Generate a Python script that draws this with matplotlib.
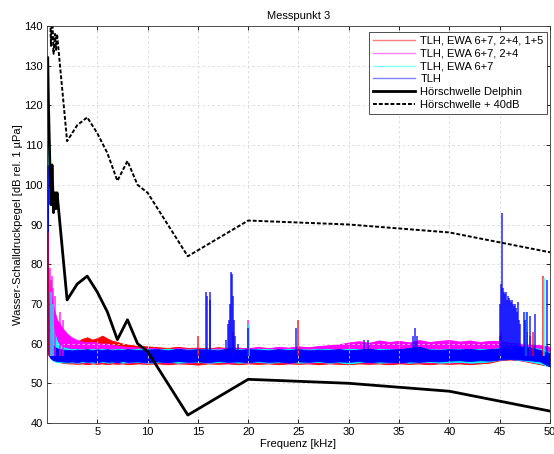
import numpy as np
import matplotlib
matplotlib.use("Agg")
import matplotlib.pyplot as plt
from matplotlib.lines import Line2D

plt.rcParams['font.family'] = ['Liberation Sans', 'DejaVu Sans']
plt.rcParams['font.size'] = 8

# ---------------------------------------------------------------
# Hearing threshold of the dolphin (kHz, dB re 1 uPa)
# ---------------------------------------------------------------
thr_freq = [0.075, 0.15, 0.3, 0.4, 0.5, 0.65, 0.8, 0.9, 1.0, 2, 3, 4, 5, 6, 7, 8, 9, 10, 14, 20, 30, 40, 50]
thr_level = [132, 120, 104, 95, 105, 93, 98, 94, 98, 71, 75, 77, 73, 68, 61, 66, 60, 58, 42, 51, 50, 48, 43]
margin_db = 40

# ---------------------------------------------------------------
# Measured spectra, stored as upper/lower envelope per frequency
# ---------------------------------------------------------------
band_freq = [0.05, 0.1, 0.2, 0.3, 0.5, 0.7, 1, 1.5, 2, 2.5, 3, 3.5, 4, 4.5, 5, 5.5, 6, 6.5, 7, 7.5, 8, 9, 10,
             11, 12, 13, 14, 15, 16, 17, 18, 19, 20, 21, 22, 23, 24, 25, 26, 27, 28, 29, 30,
             31, 32, 33, 34, 35, 36, 37, 38, 39, 40, 41, 42, 43, 44, 45, 46, 47, 48, 49, 50]

red_upper = [70, 80, 74, 70, 67, 64, 62.5, 61.5, 60.8, 60.3, 60.5, 61.2, 61.6, 61.0, 61.4, 62.0, 61.3, 60.7, 60.4, 60.0, 59.8, 59.4, 59.3,
             59.1, 58.9, 59.2, 58.9, 59.0, 58.8, 59.1, 58.9, 59.0, 58.8, 59.1, 58.9, 59.0, 58.8, 59.0, 58.9, 59.1, 58.8, 59.0, 59.2,
             59.0, 59.3, 59.1, 59.0, 59.2, 59.1, 59.3, 59.0, 59.2, 59.1, 59.0, 59.2, 59.1, 59.0, 59.2, 59.4, 59.3, 59.2, 59.0, 58.5]
red_lower = [60, 60, 59, 58, 57, 56, 55.5, 55.2, 55.0, 55.0, 54.9, 55.0, 54.8, 55.0, 54.9, 55.0, 54.8, 55.0, 54.9, 55.0, 54.8, 55.0, 54.9,
             55.0, 54.8, 55.0, 54.9, 54.7, 55.0, 54.9, 55.0, 54.8, 55.0, 54.9, 55.0, 54.8, 55.0, 54.9, 55.0, 54.8, 55.0, 54.9, 54.8,
             55.0, 54.9, 55.0, 54.8, 55.0, 54.9, 55.0, 54.8, 55.0, 54.9, 55.0, 54.8, 55.0, 55.2, 55.8, 56.0, 55.8, 55.3, 54.8, 54.3]

magenta_upper = [65, 70, 75, 73, 71, 68.5, 66, 64, 62.5, 61.5, 60.9, 60.5, 60.3, 60.5, 60.2, 60, 60, 59.6, 59.5, 59.3, 59.2, 59, 58.9,
                 58.8, 58.6, 58.9, 58.7, 58.8, 58.6, 58.9, 58.7, 58.8, 58.9, 59.1, 58.8, 59.2, 59.0, 59.3, 59.1, 59.4, 59.6, 59.8, 60.3,
                 60.6, 60.2, 60.8, 60.4, 60.7, 60.3, 60.9, 60.4, 60.7, 60.9, 60.5, 60.8, 60.4, 60.7, 60.6, 60.2, 60.0, 59.8, 59.6, 59.2]
magenta_lower = [60, 60, 59, 58, 57, 56, 55.6, 55.4, 55.3, 55.3, 55.2, 55.3, 55.2, 55.3, 55.2, 55.3, 55.2, 55.3, 55.2, 55.3, 55.2, 55.3, 55.2,
                 55.3, 55.2, 55.3, 55.2, 55.3, 55.2, 55.3, 55.2, 55.3, 55.2, 55.3, 55.2, 55.3, 55.2, 55.3, 55.2, 55.3, 55.2, 55.3, 55.2,
                 55.3, 55.2, 55.3, 55.2, 55.3, 55.2, 55.3, 55.2, 55.3, 55.2, 55.3, 55.2, 55.3, 55.5, 56.0, 56.1, 55.9, 55.5, 55.0, 54.6]

cyan_upper = [111, 82, 72, 69, 66, 63, 60.5, 59.2, 58.8, 58.6, 58.7, 58.5, 58.7, 58.6, 58.5, 58.7, 58.6, 58.5, 58.7, 58.6, 58.5, 58.7, 58.6,
              58.5, 58.7, 58.6, 58.5, 58.7, 58.6, 58.5, 58.7, 58.6, 58.5, 58.7, 58.6, 58.5, 58.7, 58.6, 58.5, 58.7, 58.6, 58.5, 58.7,
              58.6, 58.5, 58.7, 58.6, 58.5, 58.8, 58.9, 58.6, 58.5, 58.7, 58.6, 58.5, 58.7, 58.6, 58.9, 59.3, 59.2, 59.0, 58.7, 57.8]
cyan_lower = [60, 59, 58, 57, 56, 55.6, 55.3, 55.3, 55.2, 55.3, 55.2, 55.3, 55.4, 55.2, 55.3, 55.4, 55.2, 55.3, 55.4, 55.2, 55.3, 55.4, 55.2,
              55.3, 55.4, 55.2, 55.3, 55.4, 55.2, 55.3, 55.4, 55.2, 55.3, 55.4, 55.2, 55.3, 55.4, 55.2, 55.3, 55.4, 55.2, 55.3, 55.0,
              55.3, 55.4, 55.2, 55.3, 55.4, 55.2, 55.3, 55.4, 55.2, 55.3, 55.4, 55.2, 55.3, 55.5, 56.0, 56.1, 55.9, 55.5, 55.0, 54.2]

blue_upper = [105, 76, 66, 62, 60, 59.3, 58.8, 58.5, 58.4, 58.3, 58.5, 58.4, 58.6, 58.3, 58.5, 58.4, 58.6, 58.3, 58.5, 58.4, 58.6, 58.4, 58.5,
              58.6, 58.3, 58.7, 58.4, 58.6, 58.5, 58.3, 58.8, 58.4, 58.6, 58.5, 58.3, 58.6, 58.4, 58.6, 58.3, 58.5, 58.4, 58.6, 58.3,
              58.5, 58.7, 58.4, 58.5, 58.6, 58.9, 59.2, 58.5, 58.4, 58.6, 58.5, 58.7, 58.4, 58.6, 58.8, 59.5, 59.3, 59.0, 58.4, 57.6]
blue_lower = [58, 57.5, 57, 56.5, 56, 55.8, 55.6, 55.5, 55.4, 55.5, 55.3, 55.6, 55.4, 55.5, 55.3, 55.6, 55.4, 55.5, 55.3, 55.6, 55.4, 55.5, 55.3,
              55.5, 55.3, 55.6, 55.4, 55.5, 55.3, 55.6, 55.4, 55.5, 55.3, 55.6, 55.4, 55.5, 55.2, 55.5, 55.4, 55.6, 55.3, 55.5, 55.4,
              55.6, 55.3, 55.5, 55.4, 55.2, 55.5, 55.4, 55.6, 55.5, 55.7, 55.8, 55.6, 55.8, 55.7, 56.0, 56.1, 56.0, 55.8, 55.5, 54.2]

# Narrow tonal components (frequency kHz, peak level dB)
red_peak_freq = [0.1, 0.35, 15.0, 18.5, 25.0, 45.0, 47.7, 48.3, 49.3]
red_peak_level = [88, 76, 62, 63, 66, 62, 63, 63, 77]
magenta_peak_freq = [0.3, 0.45, 0.6, 0.8, 1.3, 1.6, 20.0, 45.1, 48.0]
magenta_peak_level = [79, 77, 74, 72, 68, 66, 66, 63, 62]
cyan_peak_freq = [0.4, 0.6, 20.05, 47.5, 47.6, 49.45]
cyan_peak_level = [73, 70, 65, 66, 68, 76.5]
blue_peak_freq = [15.85, 15.95, 16.2, 16.25, 17.8, 18.0, 18.1, 18.2, 18.3, 18.35, 18.45, 18.55, 18.7, 19.0, 20.0, 24.8,
                  31.5, 31.9, 36.4, 36.6, 36.8,
                  45.0, 45.1, 45.25, 45.3, 45.4, 45.5, 45.6, 45.7, 45.8, 45.9, 46.0, 46.1, 46.2, 46.3, 46.4, 46.5,
                  46.6, 46.7, 46.8, 46.9, 47.0, 47.4, 47.55, 47.7, 48.0, 48.5, 49.7]
blue_peak_level = [73, 72, 73, 71, 61, 65, 66, 70, 78, 77.5, 72, 66, 62, 60, 64, 64,
                   61, 61, 62, 64, 62,
                   70, 75, 93, 74, 73, 72.5, 73, 71, 72, 71.5, 71, 70.5, 71, 70, 69.5, 70,
                   69, 68, 70.5, 66, 65, 68, 66, 68, 67, 67.5, 76]

series = [
    ("TLH, EWA 6+7, 2+4, 1+5", "#ff0000", red_upper, red_lower, red_peak_freq, red_peak_level),
    ("TLH, EWA 6+7, 2+4", "#ff00ff", magenta_upper, magenta_lower, magenta_peak_freq, magenta_peak_level),
    ("TLH, EWA 6+7", "#00ffff", cyan_upper, cyan_lower, cyan_peak_freq, cyan_peak_level),
    ("TLH", "#0000ff", blue_upper, blue_lower, blue_peak_freq, blue_peak_level),
]

fig = plt.figure(figsize=(5.54, 4.54), dpi=100)
ax = fig.add_axes([0.0848, 0.0683, 0.9080, 0.8744])

handles = []
for name, col, up, low, pf, pl in series:
    ax.fill_between(band_freq, low, up, color=col, lw=0.6, edgecolor=col)
    ax.vlines(pf, 57, pl, color=col, lw=1.1, alpha=0.85)
    handles.append(Line2D([], [], color=col, lw=1, alpha=0.5, label=name))

thr = np.array(thr_level)
ax.plot(thr_freq, thr, color='black', lw=2.0)
ax.plot(thr_freq, thr + margin_db, color='black', lw=1.4, linestyle=(0, (2, 1)))
handles.append(Line2D([], [], color='black', lw=2.0, label='Hörschwelle Delphin'))
handles.append(Line2D([], [], color='black', lw=1.4, linestyle=(0, (2, 1)), label='Hörschwelle + 40dB'))

ax.set_xlim(0, 50)
ax.set_ylim(40, 140)
ax.set_xticks([5, 10, 15, 20, 25, 30, 35, 40, 45, 50])
ax.set_yticks(range(40, 141, 10))
ax.tick_params(direction='in', top=True, right=True, length=3, width=0.6, pad=3, labelsize=8)
ax.grid(True, linestyle=(0, (3, 3)), color='#d9d9d9', lw=0.6)
for sp in ax.spines.values():
    sp.set_linewidth(0.6)
    sp.set_color('#333333')

ax.set_title("Messpunkt 3", fontsize=8, pad=5)
ax.set_xlabel("Frequenz [kHz]", fontsize=8, labelpad=1)
ax.set_ylabel("Wasser-Schalldruckpegel [dB rel. 1 µPa]", fontsize=8, labelpad=1)

leg = ax.legend(handles=handles, loc='upper right', bbox_to_anchor=(0.995, 0.985), fontsize=8,
                fancybox=False, framealpha=1, edgecolor='#333333', handlelength=3.8,
                borderpad=0.35, labelspacing=0.25, handletextpad=0.5, borderaxespad=0)
leg.get_frame().set_linewidth(0.6)

fig.savefig("out.png", dpi=100)
